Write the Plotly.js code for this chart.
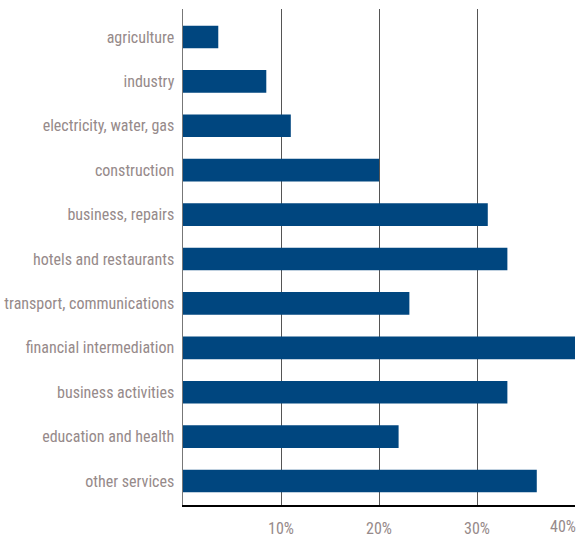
<!DOCTYPE html>
<html><head><meta charset="utf-8">
<script src="https://cdn.plot.ly/plotly-3.0.1.min.js"></script>
<style>html,body{margin:0;padding:0;background:#fff;}#chart{width:580px;height:537px;}</style>
</head><body><div id="chart"></div>
<script>
const categories = ["agriculture","industry","electricity, water, gas","construction","business, repairs","hotels and restaurants","transport, communications","financial intermediation","business activities","education and health","other services"];
const values = [3.6, 8.5, 11.0, 20.0, 31.1, 33.1, 23.1, 40.0, 33.1, 22.0, 36.1];
const tickValues = [10, 20, 30];
const tickLabels = ["10%", "20%", "30%"];
const edgeTickValues = [40];
const edgeTickLabels = ["40%"];

const font = "'Liberation Sans Narrow', 'Arial Narrow', 'Roboto Condensed', 'DejaVu Sans Condensed', sans-serif";
const labelColor = "#968a8a";

Plotly.newPlot("chart", [{
  type: "bar",
  orientation: "h",
  y: categories,
  x: values,
  width: 0.51,
  marker: {color: "#00467f"},
  hoverinfo: "none"
}, {
  type: "scatter", mode: "markers",
  x: [0], y: [categories[0]],
  xaxis: "x2", yaxis: "y",
  marker: {opacity: 0}, hoverinfo: "none"
}], {
  width: 580, height: 537,
  margin: {l: 183, r: 5, t: 9, b: 32, pad: 0},
  paper_bgcolor: "#fff", plot_bgcolor: "#fff",
  showlegend: false,
  xaxis: {
    range: [0, 40],
    tickvals: tickValues, ticktext: tickLabels,
    showgrid: true, gridcolor: "#555", gridwidth: 1,
    zeroline: false,
    showline: true, linecolor: "#000", linewidth: 1.5,
    ticks: "",
    ticklabelstandoff: 8,
    tickfont: {family: font, size: 16, color: labelColor},
    fixedrange: true
  },
  xaxis2: {
    overlaying: "x", side: "bottom",
    range: [0, 40],
    tickvals: edgeTickValues, ticktext: edgeTickLabels,
    ticklabelshift: -12,
    ticklabeloverflow: "allow",
    showgrid: false, zeroline: false, showline: false,
    ticks: "",
    ticklabelstandoff: 10,
    tickfont: {family: font, size: 16, color: labelColor},
    fixedrange: true
  },
  yaxis: {
    autorange: false,
    range: [10.54, -0.63],
    type: "category",
    categoryorder: "array", categoryarray: categories,
    showgrid: false, zeroline: false,
    showline: true, linecolor: "#777", linewidth: 1.5,
    ticks: "",
    ticklabelstandoff: 4,
    tickfont: {family: font, size: 16, color: labelColor},
    fixedrange: true
  }
}, {displayModeBar: false, staticPlot: true});
</script></body></html>
